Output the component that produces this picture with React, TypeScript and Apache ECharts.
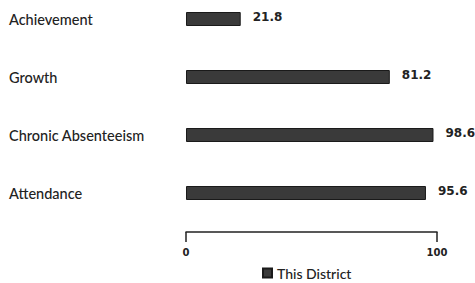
import React, { useEffect, useRef } from "react";
import * as echarts from "echarts";

const categories = ["Achievement", "Growth", "Chronic Absenteeism", "Attendance"];
const values = [21.8, 81.2, 98.6, 95.6];
const seriesName = "This District";

export default function App() {
  const ref = useRef<HTMLDivElement>(null);
  useEffect(() => {
    const chart = echarts.init(ref.current!, null, { renderer: "svg" });
    chart.setOption({
      animation: false,
      backgroundColor: "#ffffff",
      textStyle: { fontFamily: "Lato" },
      grid: { left: 186, right: 38, top: 0, bottom: 61, containLabel: false },
      legend: {
        data: [seriesName],
        left: 262,
        top: 276,
        padding: 0,
        icon: "rect",
        itemWidth: 9,
        itemHeight: 9,
        itemGap: 6,
        textStyle: { fontSize: 14, color: "#222", fontFamily: "Lato", fontWeight: 500 },
      },
      xAxis: {
        type: "value",
        min: 0,
        max: 100,
        interval: 100,
        offset: 10,
        splitLine: { show: false },
        axisLine: { show: true, lineStyle: { color: "#222", width: 1.5 } },
        axisTick: { show: true, length: 10, lineStyle: { color: "#222", width: 1.5 } },
        axisLabel: { fontSize: 10, fontWeight: "bold", color: "#222", margin: 15, fontFamily: "DejaVu Sans" },
      },
      yAxis: {
        type: "category",
        data: categories,
        inverse: true,
        axisLine: { show: false },
        axisTick: { show: false },
        axisLabel: {
          align: "left",
          margin: 177,
          fontSize: 14.5,
          color: "#222",
          fontFamily: "Lato",
          fontWeight: 500,
        },
      },
      series: [
        {
          name: seriesName,
          type: "bar",
          data: values,
          barWidth: 14,
          itemStyle: { color: "#3a3a3a", borderColor: "#1a1a1a", borderWidth: 1 },
          label: {
            show: true,
            position: "right",
            distance: 12,
            fontSize: 12,
            fontWeight: "bold",
            color: "#222",
            fontFamily: "DejaVu Sans",
            offset: [0, -2],
          },
        },
      ],
    });
    return () => chart.dispose();
  }, []);
  return <div ref={ref} style={{ width: 475, height: 293, position: "absolute", left: 0, top: -10 }} />;
}
